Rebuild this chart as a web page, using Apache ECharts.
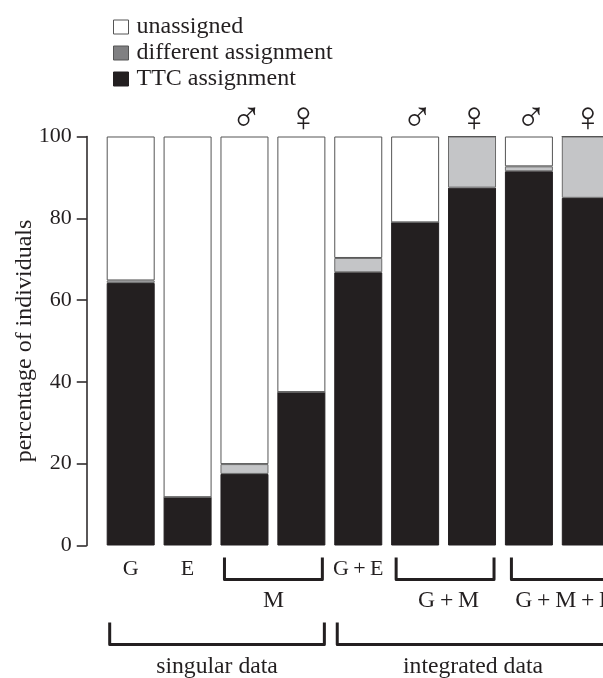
<!DOCTYPE html>
<html><head><meta charset="utf-8">
<style>html,body{margin:0;padding:0;background:#fff;overflow:hidden}#c{width:603px;height:678px}</style>
<script src="https://cdn.jsdelivr.net/npm/echarts@6/dist/echarts.min.js"></script>
</head><body><div id="c"></div>
<script>
const categories = ['G','E','','','G\u2009+\u2009E','','','',''];
const sexes = ['','','♂','♀','','♂','♀','♂','♀'];
const ttc = [64.2,11.8,17.5,37.5,66.8,79,87.5,91.5,85];
const different = [0.6,0,2.4,0,3.5,0,12.5,1.2,15];
const unassigned = [35.2,88.2,80.1,62.5,29.7,21,0,7.3,0];
const groupRanges = [[2,3,0],[5,6,0],[7,8,0],[0,3,1],[4,8,1]];
const groupLabels = ['M','G\u2009+\u2009M','G\u2009+\u2009M\u2009+\u2009E','singular data','integrated data'];

const serif = '"Liberation Serif","Times New Roman",serif';
const ink = '#231f20';
const bracketShift = [0,1,2.5,0,0];
const labelShift = [0,3.5,4,0,0];
const chart = echarts.init(document.getElementById('c'),null,{renderer:'canvas'});
function bar(name,data,color,border){
  return {name,type:'bar',stack:'a',data,barWidth:48,
    itemStyle:{color,borderColor:border,borderWidth:1},emphasis:{disabled:true}};
}
chart.setOption({
  animation:false,
  backgroundColor:'#fff',
  grid:{left:102.25,top:136.5,width:512,height:409,containLabel:false,outerBoundsMode:'none'},
  legend:{left:108,top:10,orient:'vertical',itemWidth:15,itemHeight:14,itemGap:2,
    selectedMode:false,icon:'rect',
    textStyle:{fontFamily:serif,fontSize:24,color:ink,lineHeight:20,padding:[0,0,0,3]},
    data:[
      {name:'unassigned',itemStyle:{color:'#fff',borderColor:'#555',borderWidth:1}},
      {name:'different assignment',itemStyle:{color:'#808082',borderColor:'#555',borderWidth:1}},
      {name:'TTC assignment',itemStyle:{color:ink,borderColor:ink,borderWidth:1}}
    ]},
  xAxis:[
    {type:'category',data:categories,axisLine:{show:false},axisTick:{show:false},
     axisLabel:{interval:0,margin:13,fontFamily:serif,fontSize:22,color:ink}},
    {type:'category',position:'top',data:sexes,axisLine:{show:false},axisTick:{show:false},
     axisLabel:{interval:0,margin:-4,padding:[0,0,0,4],fontFamily:serif,fontSize:42,color:ink}}
  ],
  yAxis:{type:'value',min:0,max:100,interval:20,offset:15.5,splitLine:{show:false},
    axisLine:{show:true,lineStyle:{color:ink,width:1.5}},
    axisTick:{show:true,length:10,lineStyle:{color:ink,width:1.5}},
    axisLabel:{margin:15,fontFamily:serif,fontSize:22,color:ink},
    name:'percentage of individuals',nameLocation:'middle',nameGap:50,nameRotate:90,nameMoveOverlap:false,
    nameTextStyle:{fontFamily:serif,fontSize:24,color:ink}},
  series:[
    bar('TTC assignment',ttc,ink,ink),
    bar('different assignment',different,'#c4c5c7','#6a6a6a'),
    bar('unassigned',unassigned,'#fff','#555'),
    {type:'custom',clip:false,silent:true,data:groupRanges,
     encode:{x:0,y:2},
     renderItem(params,api){
       const s=api.value(0),e=api.value(1),lvl=api.value(2);
       const i=params.dataIndex;
       const base=api.coord([s,0]);
       const end=api.coord([e,0]);
       const inL=lvl?21:20, inR=lvl?23:21;
       const x0=base[0]-inL+bracketShift[i],x1=end[0]+inR+bracketShift[i];
       const top=base[1]+(lvl?77:12), bot=base[1]+(lvl?99:34);
       return {type:'group',children:[
         {type:'polyline',shape:{points:[[x0,top],[x0,bot],[x1,bot],[x1,top]]},
          style:{stroke:ink,lineWidth:3,fill:null,lineJoin:'round'}},
         {type:'text',style:{text:groupLabels[i],x:(x0+x1)/2+labelShift[i],y:bot+(lvl?22:21),align:'center',verticalAlign:'middle',
           font:'23.7px '+serif,fill:ink}}
       ]};
     }}
  ]
});
</script></body></html>
